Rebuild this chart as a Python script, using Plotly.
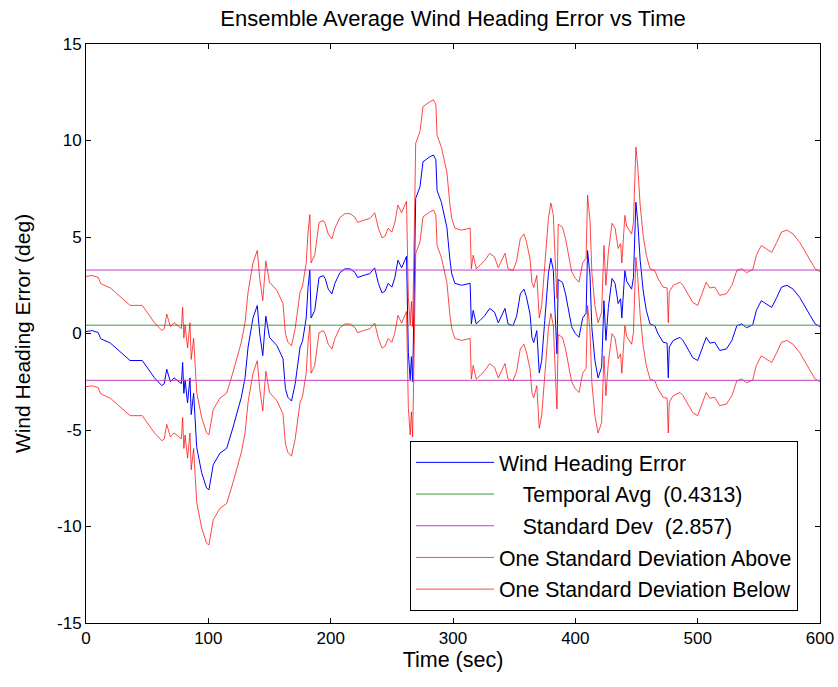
import plotly.graph_objects as go

# Ensemble average wind heading error (deg) vs time (sec)
time_s = [0, 5, 10, 12, 20, 29, 36, 46, 56, 62, 64, 66, 69, 72, 75, 78, 79, 80, 81, 83, 85, 86, 88,
          90.5, 94.5, 98.5, 100.5, 104, 109.5, 115, 120, 127, 130, 132.5, 136.5, 140, 142, 144.5, 147,
          150, 156, 161, 163, 165, 168, 171, 175, 177, 180, 181.5, 183, 184, 187, 190.5, 194, 195.5,
          198, 201, 203.5, 207.5, 211.5, 216, 220, 222, 226.5, 232, 236, 239, 242, 244.5, 247, 250,
          252.5, 255, 258, 260.8, 262, 263.5, 265, 266, 267, 268, 269.5, 273, 275.5, 281, 284, 286,
          287, 290.5, 295, 297.5, 299, 301.5, 307, 314, 315, 316.5, 319, 322, 326, 330, 334, 337,
          340, 342.5, 345, 349, 352, 355, 358, 360, 363, 364.5, 366, 368.5, 370.5, 372.5, 375, 378,
          380, 382, 383.5, 385, 386, 389.5, 392, 394, 397, 400, 403, 406, 408.8, 410, 412, 413.5,
          416, 418.6, 421.5, 423.4, 425, 427, 430, 432.5, 435, 437, 438, 440.5, 442, 446, 447.5,
          449.5, 451, 453, 455.5, 458, 461, 465, 467.5, 471.7, 475, 476, 476.8, 480, 485.5, 488,
          492, 496, 500, 504, 507, 510, 514, 518, 523.5, 528, 532, 536, 540, 545, 548, 552, 556,
          560.5, 564.5, 568.5, 573, 578, 583.5, 587.5, 592, 596, 600]
heading_err = [0.1, 0.15, 0.05, -0.27, -0.5, -1.0, -1.4, -1.4, -2.3, -2.7, -2.6, -1.85, -2.5, -2.3,
               -2.45, -2.6, -1.5, -3.1, -2.4, -3.6, -2.3, -4.2, -3.1,
               -5.9, -7.2, -8.0, -8.1, -6.8, -6.2, -5.95, -4.9, -3.3, -2.3, -0.7, 0.8, 1.45, 0.0, -1.15, 0.9,
               -0.2, -0.62, -1.3, -2.85, -3.3, -3.5, -2.6, -0.7, -0.4, 0.8, 2.4, 3.3, 0.8, 1.2, 2.9, 3.0, 2.85,
               2.3, 2.05, 2.6, 3.15, 3.35, 3.35, 3.15, 2.9, 3.0, 3.1, 3.4, 2.6, 2.1, 2.2, 2.6, 2.4,
               2.9, 3.8, 3.4, 3.8, 4.0, -1.0, -2.4, -1.2, -2.5, 1.0, 7.0, 7.6, 8.9, 9.15, 9.25, 9.0,
               7.4, 6.8, 5.5, 3.8, 3.1, 2.6, 2.5, 2.6, 0.5, 1.2, 0.5, 0.67, 0.93, 1.3, 1.1, 0.55,
               1.0, 1.3, 0.5, 0.4, 0.9, 2.05, 2.3, 1.9, 1.0, -0.2, -0.47, 0.15, -2.05, -1.4, 0.67, 3.1,
               3.9, 3.3, 1.0, -1.05, 2.8, 2.65, 2.05, 1.3, 0.35, 0.0, -0.2, 0.8, 1.05, 4.3, 3.0, 0.3,
               -1.4, -2.3, -1.75, 1.7, -0.36, 1.35, 2.85, 2.6, 1.55, 1.8, 0.8, 3.26, 2.7, 2.3, 2.9,
               6.8, 5.8, 3.8, 2.2, 1.2, 0.5, 0.4, 0.0, -0.45, -0.5, -2.3, -0.7, -0.36, -0.2, -0.36,
               -0.8, -1.25, -1.4, -0.7, -0.2, -0.5, -0.45, -0.88, -0.8, -0.36, 0.4, 0.5, 0.3, 0.45, 1.2, 1.7, 1.55,
               1.35, 1.85, 2.4, 2.5, 2.3, 1.86, 1.45, 0.93, 0.5, 0.35]

temporal_avg = 0.4313
standard_dev = 2.857

x_ticks = [0, 100, 200, 300, 400, 500, 600]
y_ticks = [-15, -10, -5, 0, 5, 10, 15]

upper = [v + standard_dev for v in heading_err]
lower = [v - standard_dev for v in heading_err]
t_span = [time_s[0], time_s[-1]]

NB = "\u00a0"
fig = go.Figure()
fig.add_trace(go.Scatter(x=time_s, y=heading_err, mode="lines", name="Wind Heading Error",
                         line=dict(color="#0000ff", width=1), legendgroup="a"))
fig.add_trace(go.Scatter(x=t_span, y=[temporal_avg] * 2, mode="lines",
                         name=NB * 4 + "Temporal Avg" + NB * 2 + "(0.4313)",
                         line=dict(color="#3a9a3a", width=1), legendgroup="b"))
fig.add_trace(go.Scatter(x=t_span, y=[temporal_avg + standard_dev] * 2, mode="lines",
                         name=NB * 4 + "Standard Dev" + NB * 2 + "(2.857)",
                         line=dict(color="#c040c0", width=1), legendgroup="c"))
fig.add_trace(go.Scatter(x=time_s, y=upper, mode="lines", name="One Standard Deviation Above",
                         line=dict(color="rgba(255,0,0,0.72)", width=1), legendgroup="d"))
fig.add_trace(go.Scatter(x=time_s, y=lower, mode="lines", name="One Standard Deviation Below",
                         line=dict(color="rgba(255,0,0,0.72)", width=1), legendgroup="e"))
fig.add_trace(go.Scatter(x=t_span, y=[temporal_avg - standard_dev] * 2, mode="lines",
                         showlegend=False, line=dict(color="#c040c0", width=1)))

axis_common = dict(showline=True, linecolor="black", linewidth=1, mirror="ticks",
                   ticks="inside", ticklen=5, tickcolor="black", showgrid=False, zeroline=False,
                   automargin=False,
                   tickfont=dict(family="Liberation Sans, Arial", size=17, color="black"))

fig.update_layout(
    width=838, height=687,
    margin=dict(l=86, r=18, t=44, b=64),
    paper_bgcolor="white", plot_bgcolor="white",
    font=dict(family="Liberation Sans, Arial", color="black"),
    title=dict(text="Ensemble Average Wind Heading Error vs Time", x=0.5406, xanchor="center",
               y=1 - 18 / 687, yanchor="middle", yref="container",
               font=dict(size=22, color="black")),
    xaxis=dict(range=[0, 600], tickvals=x_ticks, ticktext=[str(v) for v in x_ticks],
               title=dict(text="Time (sec)", font=dict(size=21.5), standoff=4), **axis_common),
    yaxis=dict(range=[-15, 15], tickvals=y_ticks, ticktext=[str(v) for v in y_ticks],
               title=dict(text="Wind Heading Error (deg)", font=dict(size=21), standoff=20),
               **axis_common),
    legend=dict(x=0.4414, y=0.3143, xanchor="left", yanchor="top", bgcolor="white",
                bordercolor="black", borderwidth=1, tracegroupgap=1, itemwidth=78,
                font=dict(size=21.3, color="black")),
    showlegend=True,
)

fig.write_html("out.html", config=dict(displayModeBar=False),
               post_script="document.body.style.margin='0';document.body.style.overflow='hidden';")
